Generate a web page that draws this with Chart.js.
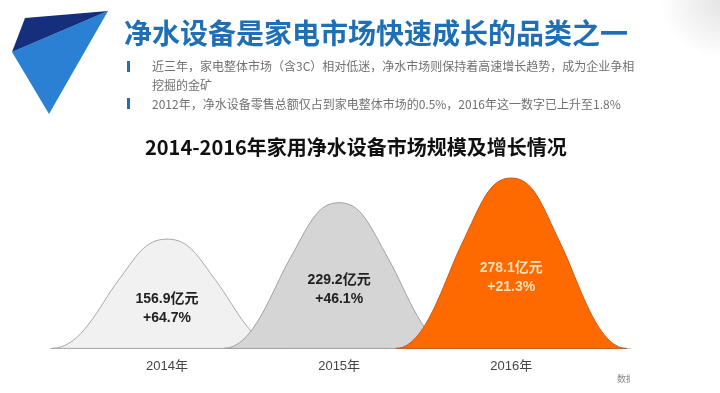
<!DOCTYPE html>
<html lang="zh-CN">
<head>
<meta charset="UTF-8">
<title>2014-2016年家用净水设备市场规模及增长情况</title>
<script src="https://cdn.jsdelivr.net/npm/chart.js"></script>
<style>
  body { margin: 0; width: 720px; height: 393px; background: #fff; position: relative; overflow: hidden;
         font-family: "Noto Sans CJK SC", sans-serif; }
  #grafico { position: absolute; left: 0; top: 0; }
  #logo { position: absolute; left: 0; top: 0; }
  .sombra { position: absolute; left: 660px; top: -60px; width: 140px; height: 120px; border-radius: 50%;
            background: radial-gradient(closest-side, rgba(200,200,200,0.55), rgba(255,255,255,0)); }
  .titulo { position: absolute; left: 124px; top: 16px; font-size: 28px; line-height: 32px; font-weight: bold;
            color: #1f6fb6; white-space: nowrap; }
  .barra { position: absolute; left: 127px; width: 3px; height: 11px; background: #2b6cb0; }
  .nota { position: absolute; left: 152px; font-size: 12px; line-height: 14px; color: #707070; white-space: nowrap; }
  .subtitulo { position: absolute; left: 145px; top: 134px; font-size: 20px; line-height: 26px; font-weight: bold;
               color: #111; white-space: nowrap; }
  .fonte { position: absolute; left: 617px; top: 372px; width: 13px; overflow: hidden; font-size: 9px;
           color: #888; white-space: nowrap; }
</style>
</head>
<body>

<canvas id="grafico" width="720" height="393"></canvas>
<div class="sombra"></div>

<svg id="logo" width="120" height="125">
  <polygon points="12,52 108,11 49,114" fill="#2a80d2" />
  <polygon points="25,18 108,11 12,52" fill="#152f7c" />
</svg>

<div class="titulo">净水设备是家电市场快速成长的品类之一</div>
<div class="barra" style="top: 61px;"></div>
<div class="nota" style="top: 59px;">近三年，家电整体市场（含3C）相对低迷，净水市场则保持着高速增长趋势，成为企业争相</div>
<div class="nota" style="top: 78px;">挖掘的金矿</div>
<div class="barra" style="top: 98px;"></div>
<div class="nota" style="top: 97px;">2012年，净水设备零售总额仅占到家电整体市场的0.5%，2016年这一数字已上升至1.8%</div>
<div class="subtitulo">2014-2016年家用净水设备市场规模及增长情况</div>
<div class="fonte">数据来源</div>

<script>
  // dados do grafico
  const anos = ['2014年', '2015年', '2016年'];
  const mercado = [156.9, 229.2, 278.1];   // 亿元
  const crescimento = ['+64.7%', '+46.1%', '+21.3%'];

  const cores = ['#f1f1f1', '#d5d5d5', '#ff6a00'];
  const bordas = ['#a8a8a8', '#a0a0a0', '#c9581a'];
  const coresTexto = ['#222', '#222', '#ffdfb8'];

  // desenha cada ponto como um "sino"
  const sinos = {
    id: 'sinos',
    afterDatasetsDraw(chart) {
      const ctx = chart.ctx;
      const x = chart.scales.x;
      const y = chart.scales.y;
      const meta = chart.getDatasetMeta(0);
      const base = y.getPixelForValue(y.min);
      const passo = x.getPixelForValue(1) - x.getPixelForValue(0);
      const s = passo * 0.29;
      const w = passo * 0.67;

      ctx.save();
      ctx.beginPath();
      ctx.rect(0, 0, 630, 393);
      ctx.clip();

      meta.data.forEach(function (pt, i) {
        const cx = pt.x;
        const top = pt.y;
        const h = base - top;
        ctx.beginPath();
        ctx.moveTo(cx - w, base);
        ctx.bezierCurveTo(cx - w + 0.45 * (w - s), base, cx - 1.35 * s, base - 0.395 * h, cx - s, base - 0.607 * h);
        ctx.bezierCurveTo(cx - 0.6 * s, base - 0.85 * h, cx - 0.45 * s, top, cx, top);
        ctx.bezierCurveTo(cx + 0.45 * s, top, cx + 0.6 * s, base - 0.85 * h, cx + s, base - 0.607 * h);
        ctx.bezierCurveTo(cx + 1.35 * s, base - 0.395 * h, cx + w - 0.45 * (w - s), base, cx + w, base);
        ctx.closePath();
        ctx.fillStyle = cores[i];
        ctx.fill();
        ctx.lineWidth = 1;
        ctx.strokeStyle = bordas[i];
        ctx.stroke();
      });

      ctx.textAlign = 'center';
      ctx.textBaseline = 'middle';
      ctx.font = 'bold 14px "Liberation Sans", Arial, "Noto Sans CJK SC", sans-serif';
      meta.data.forEach(function (pt, i) {
        const h = base - pt.y;
        const ty = pt.y + h * 0.5 + 5;
        ctx.fillStyle = coresTexto[i];
        ctx.fillText(mercado[i] + '亿元', pt.x, ty);
        ctx.fillText(crescimento[i], pt.x, ty + 19);
      });
      ctx.restore();
    }
  };

  const config = {
    type: 'line',
    data: {
      datasets: [{
        label: '市场规模',
        data: mercado.map(function (v, i) { return { x: i, y: v }; }),
        showLine: false,
        pointRadius: 0,
        pointHoverRadius: 0
      }]
    },
    options: {
      responsive: false,
      animation: false,
      events: [],
      layout: { padding: { left: 50, right: 90, top: 167, bottom: 9 } },
      plugins: { legend: { display: false }, tooltip: { enabled: false } },
      scales: {
        x: {
          type: 'linear',
          min: -0.68,
          max: 2.69,
          afterBuildTicks: function (axis) {
            axis.ticks = anos.map(function (a, i) { return { value: i }; });
          },
          grid: { display: false, drawTicks: false },
          border: { display: true, color: '#c4c4c4' },
          ticks: {
            padding: 10,
            color: '#444',
            font: { size: 13, family: '"Liberation Sans", Arial, "Noto Sans CJK SC", sans-serif' },
            callback: function (v) { return anos[v]; }
          }
        },
        y: {
          display: false,
          min: -60,
          max: 300
        }
      }
    },
    plugins: [sinos]
  };

  new Chart(document.getElementById('grafico'), config);
</script>
</body>
</html>
